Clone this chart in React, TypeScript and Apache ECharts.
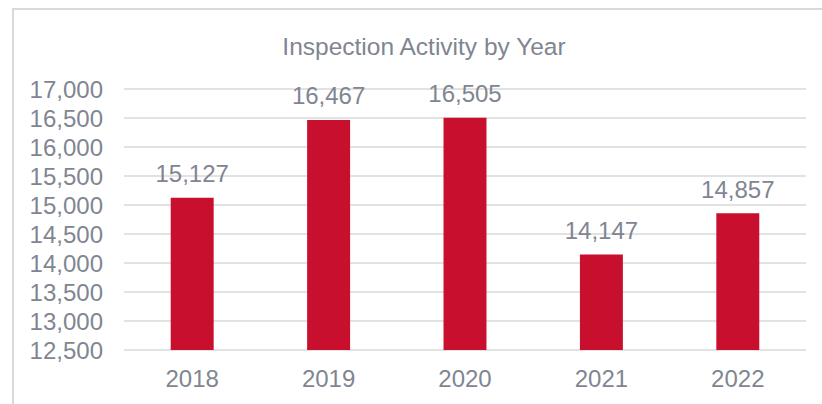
import React, { useEffect, useRef } from "react";
import * as echarts from "echarts";

const categories = ["2018", "2019", "2020", "2021", "2022"];
const inspections = [15127, 16467, 16505, 14147, 14857];
const yMin = 12500;
const yMax = 17000;
const yInterval = 500;

export default function App() {
  const ref = useRef<HTMLDivElement>(null);
  useEffect(() => {
    if (!ref.current) return;
    const chart = echarts.init(ref.current, null, { renderer: "svg" });
    const textColor = "#7f8691";
    const ff = "Liberation Sans, Arial, sans-serif";
    chart.setOption({
      animation: false,
      backgroundColor: "#ffffff",
      textStyle: { fontFamily: ff },
      graphic: [
        {
          type: "rect",
          shape: { x: 13, y: 9, width: 840, height: 420 },
          style: { fill: "none", stroke: "#d9d9d9", lineWidth: 2 },
          silent: true,
        },
      ],
      title: {
        text: "Inspection Activity by Year",
        left: 419,
        textAlign: "center",
        top: 29,
        textStyle: {
          color: textColor,
          fontSize: 24.5,
          fontWeight: "normal",
          fontFamily: ff,
        },
      },
      grid: { left: 124, right: 16, top: 89, bottom: 54, containLabel: false },
      xAxis: {
        type: "category",
        data: categories,
        axisLine: { show: false },
        axisTick: { show: false },
        axisLabel: {
          color: textColor,
          fontSize: 24,
          margin: 16,
          fontFamily: ff,
        },
      },
      yAxis: {
        type: "value",
        min: yMin,
        max: yMax,
        interval: yInterval,
        axisLine: { show: false },
        axisTick: { show: false },
        splitLine: { lineStyle: { color: "#d9d9d9", width: 1.5 } },
        axisLabel: {
          color: textColor,
          fontSize: 24,
          margin: 21,
          fontFamily: ff,
          formatter: (v: number) => v.toLocaleString("en-US"),
        },
      },
      series: [
        {
          type: "bar",
          data: inspections,
          barWidth: "31.5%",
          itemStyle: { color: "#c8102e" },
          label: {
            show: true,
            position: "top",
            distance: 12,
            color: textColor,
            fontSize: 24,
            fontFamily: ff,
            formatter: (p: any) => Number(p.value).toLocaleString("en-US"),
          },
        },
      ],
    });
    return () => chart.dispose();
  }, []);
  return (
    <div
      ref={ref}
      style={{ position: "fixed", left: 0, top: 0, width: 822, height: 404 }}
    />
  );
}
